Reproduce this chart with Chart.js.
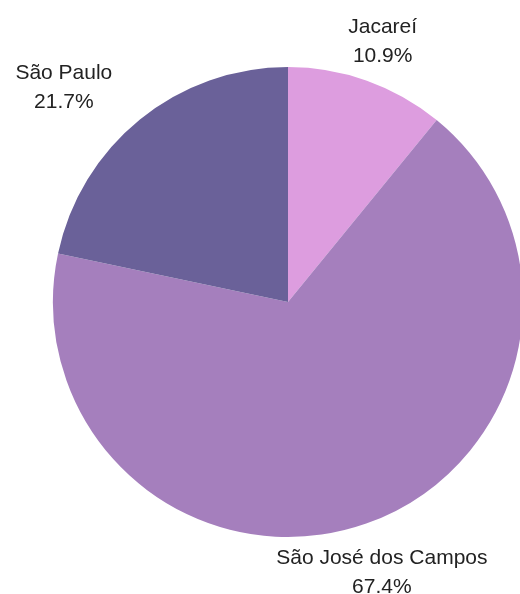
<!DOCTYPE html>
<html>
<head>
<meta charset="utf-8">
<script src="https://cdn.jsdelivr.net/npm/chart.js@4/dist/chart.umd.min.js"></script>
<style>
    html, body { margin: 0; padding: 0; background: #fff; overflow: hidden; }
    #wrap { width: 530px; height: 594px; }
</style>
</head>
<body>
<div id="wrap"><canvas id="pieChart" width="530" height="594"></canvas></div>
<script>
// Share per city (percent)
const cities = ['Jacareí', 'São José dos Campos', 'São Paulo'];
const shares = [10.9, 67.4, 21.7];
const sliceColors = ['#dd9ddf', '#a57fbd', '#6a6199'];

// Draws "name / percent" outside each slice
const outsideLabels = {
    id: 'outsideLabels',
    afterDatasetsDraw(chart) {
        const ctx = chart.ctx;
        const meta = chart.getDatasetMeta(0);
        ctx.save();
        ctx.font = '21px "Liberation Sans", Arial, sans-serif';
        ctx.fillStyle = '#222';
        ctx.textBaseline = 'middle';
        meta.data.forEach((arc, i) => {
            const mid = (arc.startAngle + arc.endAngle) / 2;
            const r = arc.outerRadius + 47;
            const x = arc.x + Math.cos(mid) * r;
            const y = arc.y + Math.sin(mid) * r;
            const c = Math.cos(mid);
            const pct = shares[i].toFixed(1) + '%';
            let cx = x;
            if (Math.abs(c) >= 0.5) {
                // side labels: name ends (or starts) at the anchor
                const w = ctx.measureText(cities[i]).width;
                cx = c < 0 ? x - w / 2 + 2 : x + w / 2;
            }
            ctx.textAlign = 'center';
            ctx.fillText(cities[i], cx, y - 9.5);
            ctx.fillText(pct, cx, y + 19.5);
        });
        ctx.restore();
    }
};

new Chart(document.getElementById('pieChart').getContext('2d'), {
    type: 'pie',
    data: {
        labels: cities,
        datasets: [{
            data: shares,
            backgroundColor: sliceColors,
            borderWidth: 0
        }]
    },
    options: {
        responsive: false,
        animation: false,
        layout: { padding: { left: 53, right: 7, top: 67, bottom: 57 } },
        plugins: {
            legend: { display: false },
            tooltip: { enabled: false }
        }
    },
    plugins: [outsideLabels]
});
</script>
</body>
</html>
